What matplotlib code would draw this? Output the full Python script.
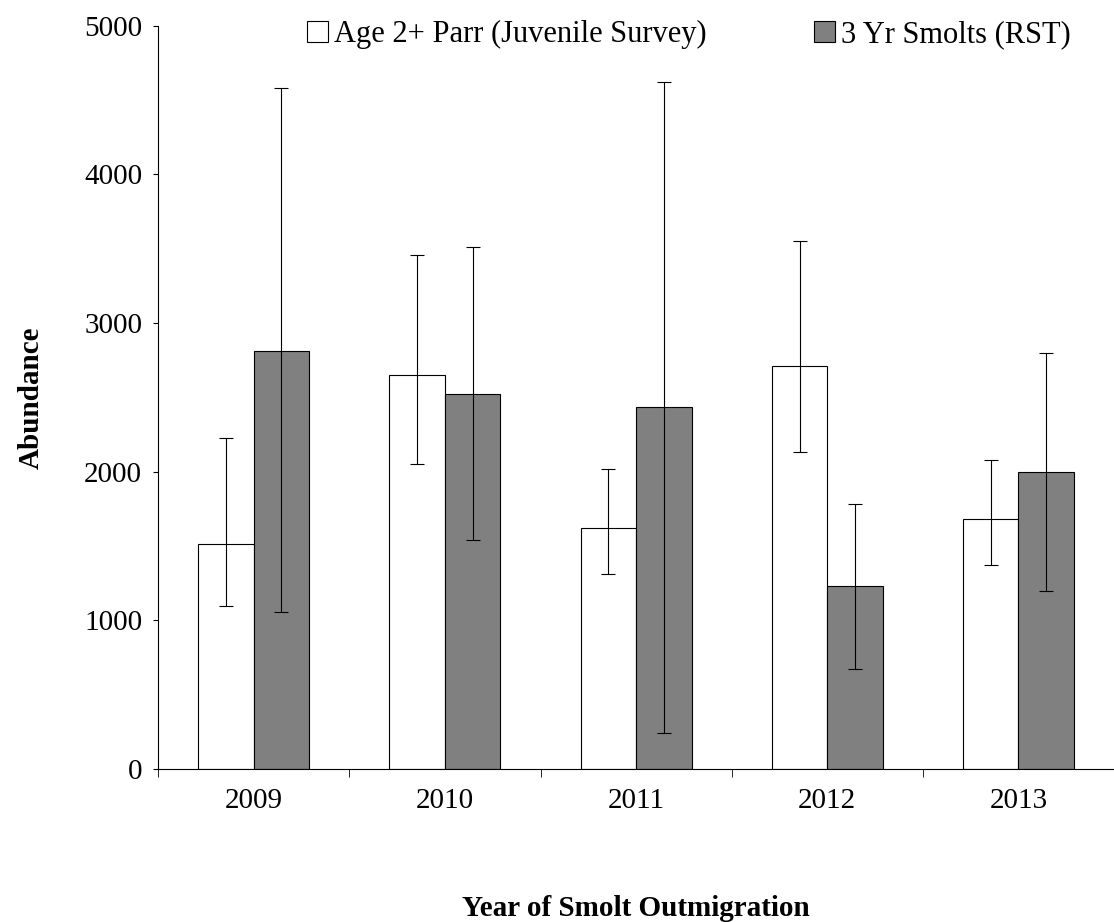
import numpy as np
import matplotlib.pyplot as plt

plt.rcParams['font.family'] = 'Liberation Serif'

years = ['2009', '2010', '2011', '2012', '2013']
parr = [1514, 2651, 1622, 2712, 1682]
parr_hi = [2230, 3460, 2020, 3550, 2080]
parr_lo = [1095, 2050, 1310, 2130, 1370]
smolt = [2815, 2520, 2436, 1232, 1999]
smolt_hi = [4580, 3510, 4625, 1785, 2800]
smolt_lo = [1055, 1540, 245, 675, 1200]

fig = plt.figure(figsize=(11.14, 9.22), dpi=100)
ax = fig.add_axes([0.142, 0.166, 0.858, 0.806])

x = np.arange(len(years))
w = 0.29
perr = [np.subtract(parr, parr_lo), np.subtract(parr_hi, parr)]
serr = [np.subtract(smolt, smolt_lo), np.subtract(smolt_hi, smolt)]
ax.bar(x - w/2, parr, w, color='white', edgecolor='black', linewidth=0.8,
       yerr=perr, capsize=5, error_kw=dict(elinewidth=0.8, capthick=0.8),
       label='Age 2+ Parr (Juvenile Survey)')
ax.bar(x + w/2, smolt, w, color='#808080', edgecolor='black', linewidth=0.8,
       yerr=serr, capsize=5, error_kw=dict(elinewidth=0.8, capthick=0.8),
       label='3 Yr Smolts (RST)')

ax.set_xlim(-0.5, 4.5)
ax.set_ylim(0, 5000)
ax.set_yticks(range(0, 5001, 1000))
ax.set_xticks(x)
ax.set_xticklabels(years)
ax.tick_params(labelsize=21, direction='out')
ax.tick_params(axis='y', pad=8)
ax.tick_params(axis='x', length=0, pad=14)
ax.set_xticks(np.arange(-0.5, 5, 1), minor=True)
ax.tick_params(axis='x', which='minor', length=6)
ax.spines['top'].set_visible(False)
ax.spines['right'].set_visible(False)
ax.set_ylabel('Abundance', fontsize=21, fontweight='bold', labelpad=28)
ax.set_xlabel('Year of Smolt Outmigration', fontsize=21, fontweight='bold', labelpad=58)
ax.legend(loc='upper center', bbox_to_anchor=(0.555, 1.045), ncol=2, frameon=False,
          fontsize=22, handlelength=0.7, handleheight=0.7, handletextpad=0.2,
          columnspacing=3.5)

fig.savefig('out.png')
